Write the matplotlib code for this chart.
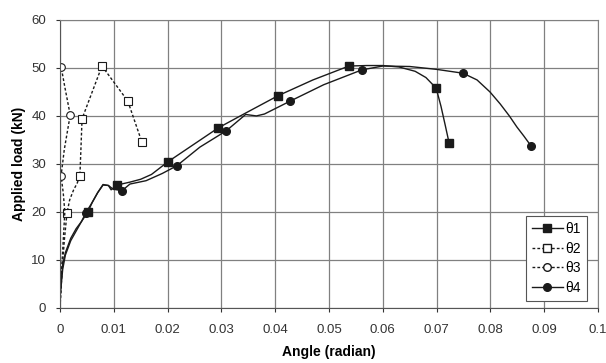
import numpy as np
import matplotlib.pyplot as plt

plt.rcParams['font.family'] = ['Liberation Sans', 'DejaVu Sans']

# theta1: filled squares, solid line
t1_x = [0.0, 0.0005, 0.001, 0.0015, 0.002, 0.003, 0.004, 0.0052, 0.006, 0.007, 0.008,
        0.009, 0.0095, 0.0106, 0.013, 0.015, 0.017, 0.020, 0.0294, 0.0345, 0.0405,
        0.047, 0.0537, 0.057, 0.060, 0.063, 0.066, 0.068, 0.0699, 0.0708, 0.0716, 0.0723]
t1_y = [3.0, 9.0, 11.5, 13.0, 14.5, 16.5, 18.0, 20.0, 22.0, 24.0, 25.6,
        25.5, 24.6, 25.6, 26.2, 26.8, 27.8, 30.4, 37.5, 40.6, 44.2,
        47.5, 50.4, 50.5, 50.5, 50.2, 49.3, 48.0, 45.8, 42.0, 38.0, 34.4]
t1_mx = [0.0052, 0.0106, 0.020, 0.0294, 0.0405, 0.0537, 0.0699, 0.0723]
t1_my = [20.0, 25.6, 30.4, 37.5, 44.2, 50.4, 45.8, 34.4]

# theta2: open squares, dashed line
t2_x = [0.0, 0.0004, 0.0008, 0.0013, 0.0018, 0.0025, 0.0032, 0.0037, 0.0041,
        0.0078, 0.0126, 0.0152]
t2_y = [0.0, 8.0, 14.0, 19.8, 22.5, 24.5, 26.0, 27.5, 39.4,
        50.4, 43.1, 34.6]
t2_mx = [0.0013, 0.0037, 0.0041, 0.0078, 0.0126, 0.0152]
t2_my = [19.8, 27.5, 39.4, 50.4, 43.1, 34.6]

# theta3: open circles, dashed line
t3_x = [0.0, 0.0003, 0.0006, 0.0009, 0.0006, 0.0002, 0.0008, 0.0019, 0.0009, 0.0002]
t3_y = [0.0, 8.0, 14.0, 20.0, 24.0, 27.5, 33.0, 40.2, 46.0, 50.3]
t3_mx = [0.0002, 0.0019, 0.0002]
t3_my = [27.5, 40.2, 50.3]

# theta4: filled circles, solid line
t4_x = [0.0, 0.0005, 0.001, 0.002, 0.003, 0.004, 0.0048, 0.006, 0.007, 0.008, 0.009,
        0.0098, 0.0115, 0.013, 0.016, 0.019, 0.0217, 0.026, 0.0309, 0.0345, 0.0365,
        0.038, 0.0428, 0.049, 0.0561, 0.060, 0.065, 0.070, 0.0749, 0.0775, 0.0799,
        0.0818, 0.0835, 0.0849, 0.0862, 0.0875]
t4_y = [2.0, 8.0, 11.0, 14.0, 16.0, 18.0, 19.8, 22.0, 24.0, 25.7, 25.5,
        24.8, 24.4, 25.8, 26.5, 28.0, 29.6, 33.5, 36.9, 40.3, 40.0,
        40.4, 43.1, 46.5, 49.6, 50.4, 50.3, 49.7, 48.9, 47.5, 45.0,
        42.5, 40.0, 37.7, 35.8, 33.8]
t4_mx = [0.0048, 0.0115, 0.0217, 0.0309, 0.0428, 0.0561, 0.0749, 0.0875]
t4_my = [19.8, 24.4, 29.6, 36.9, 43.1, 49.6, 48.9, 33.8]

labels = ['θ1', 'θ2', 'θ3', 'θ4']

fig = plt.figure(figsize=(6.06, 3.63), dpi=100)
ax = fig.add_axes([0.099, 0.152, 0.888, 0.793])

c = '#1a1a1a'
ax.plot(t1_x, t1_y, '-', color=c, lw=1.0)
ax.plot(t1_mx, t1_my, 's', color=c, ms=6, mfc=c)
ax.plot(t2_x, t2_y, '--', color=c, lw=1.0, dashes=(2, 1.5))
ax.plot(t2_mx, t2_my, 's', color=c, ms=6, mfc='white', mew=0.8)
ax.plot(t3_x, t3_y, '--', color=c, lw=1.0, dashes=(2, 1.5))
ax.plot(t3_mx, t3_my, 'o', color=c, ms=5.5, mfc='white', mew=0.8)
ax.plot(t4_x, t4_y, '-', color=c, lw=1.0)
ax.plot(t4_mx, t4_my, 'o', color=c, ms=5.5, mfc=c)

# legend handles
h1, = ax.plot([], [], '-s', color=c, ms=6, lw=1.0)
h2, = ax.plot([], [], '--s', color=c, ms=6, mfc='white', lw=1.0, dashes=(2, 1.5))
h3, = ax.plot([], [], '--o', color=c, ms=5.5, mfc='white', lw=1.0, dashes=(2, 1.5))
h4, = ax.plot([], [], '-o', color=c, ms=5.5, lw=1.0)
leg = ax.legend([h1, h2, h3, h4], labels, loc='lower right',
                bbox_to_anchor=(0.993, 0.0), fontsize=10, handlelength=2.2,
                handletextpad=0.2, labelspacing=0.4, borderpad=0.45,
                fancybox=False, framealpha=1, edgecolor='#555555')
leg.get_frame().set_linewidth(0.8)

ax.set_xlim(0, 0.1)
ax.set_ylim(0, 60)
ax.set_xticks(np.arange(0, 0.1001, 0.01))
ax.set_xticklabels(['0', '0.01', '0.02', '0.03', '0.04', '0.05', '0.06',
                    '0.07', '0.08', '0.09', '0.1'])
ax.set_yticks(np.arange(0, 61, 10))
ax.grid(True, color='#808080', lw=0.9)
ax.set_axisbelow(True)
ax.tick_params(direction='out', length=3, labelsize=9.5, colors='#333333')
ax.tick_params(axis='x', pad=9)
ax.tick_params(axis='y', pad=7)
for s in ['top', 'right']:
    ax.spines[s].set_color('#808080')
for s in ['left', 'bottom']:
    ax.spines[s].set_color('#555555')

ax.set_xlabel('Angle (radian)', fontsize=10, fontweight='bold', labelpad=6)
ax.set_ylabel('Applied load (kN)', fontsize=10, fontweight='bold', labelpad=4)

fig.savefig('out.png', dpi=100)
